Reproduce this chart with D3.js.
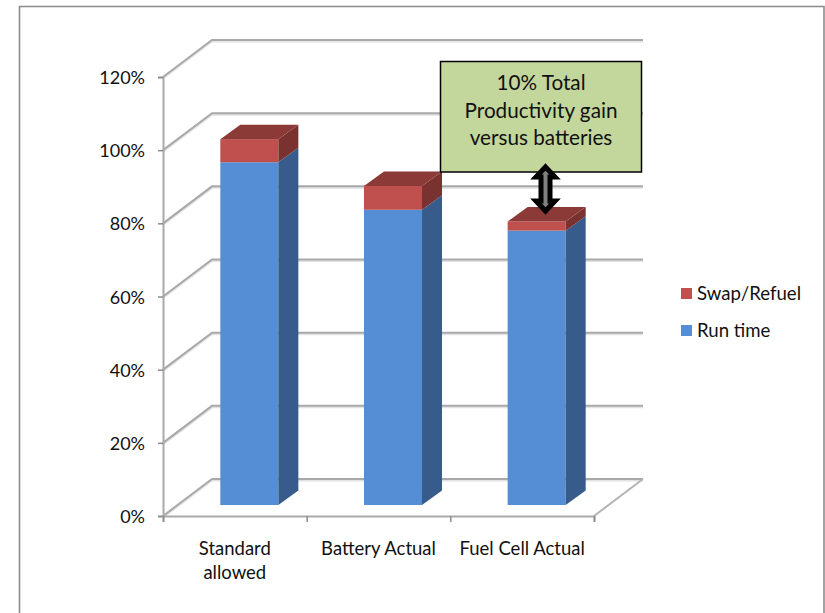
<!DOCTYPE html>
<html>
<head>
<meta charset="utf-8">
<script src="https://cdn.jsdelivr.net/npm/d3@7"></script>
<style>
  html, body { margin: 0; padding: 0; background: #fff; }
  svg { display: block; }
  text { font-family: Lato, "Open Sans", sans-serif; fill: #111; }
</style>
</head>
<body>
<script>
// Values
const categories = ["Standard allowed", "Battery Actual", "Fuel Cell Actual"];
const categoryLines = [["Standard", "allowed"], ["Battery Actual"], ["Fuel Cell Actual"]];
const runTime = [0.937, 0.807, 0.75];
const swapRefuel = [0.063, 0.065, 0.025];
const yTicks = [0, 0.2, 0.4, 0.6, 0.8, 1.0, 1.2];
const seriesNames = ["Swap/Refuel", "Run time"];
const calloutLines = ["10% Total", "Productivity gain", "versus batteries"];

const svgWidth = 825;
const svgHeight = 613;

// 3d look: back wall offset and offset of the bars inside the depth
const wallDx = 49, wallDy = -37;
const barDx = 14.5, barDy = -11;
const depthDx = 20, depthDy = -14.5;

const svg = d3.select("body")
    .append("svg")
    .attr("width", svgWidth)
    .attr("height", svgHeight);

// outer frame, has no bottom edge
svg.append("path")
    .attr("d", "M19.5,613V6.5H824V613")
    .attr("fill", "none")
    .attr("stroke", "#8c8c8c")
    .attr("stroke-width", 1.6);

const yScale = d3.scaleLinear().domain([0, 1.2]).range([516, 77]);
const xScale = d3.scaleBand()
    .domain(categories)
    .range([163, 594])
    .paddingInner(0.596)
    .paddingOuter(0.298);
const xTickScale = d3.scaleLinear().domain([0, categories.length]).range([163, 594]);

const wallLine = v => {
    const y = yScale(v);
    return `M163,${y}L${163 + wallDx},${y + wallDy}H${594 + wallDx}`;
};

// gridlines, a soft light one under the grey one
const grid = svg.append("g").attr("fill", "none");
grid.selectAll(".shadow")
    .data(yTicks)
    .enter()
    .append("path")
    .attr("class", "shadow")
    .attr("d", wallLine)
    .attr("transform", "translate(0,1.5)")
    .attr("stroke", "#e2e2e2")
    .attr("stroke-width", 2);
grid.selectAll(".line")
    .data(yTicks)
    .enter()
    .append("path")
    .attr("class", "line")
    .attr("d", wallLine)
    .attr("stroke", "#a9a9a9")
    .attr("stroke-width", 2);

// right edge of the floor
grid.append("path")
    .attr("d", `M594,${yScale(0)}L${594 + wallDx},${yScale(0) + wallDy}`)
    .attr("stroke", "#b4b4b4")
    .attr("stroke-width", 2);

// axes
const yAxis = svg.append("g")
    .attr("transform", "translate(163,0)")
    .call(d3.axisLeft(yScale).tickValues(yTicks).tickSize(5).tickFormat(""));
const xAxis = svg.append("g")
    .attr("transform", `translate(0,${yScale(0)})`)
    .call(d3.axisBottom(xTickScale).tickValues(d3.range(categories.length + 1)).tickSize(6).tickFormat(""));
[yAxis, xAxis].forEach(a => {
    a.selectAll("path").attr("stroke", "#a9a9a9").attr("stroke-width", 2);
    a.selectAll("line").attr("stroke", "#8c8c8c").attr("stroke-width", 1.5);
});

svg.append("g")
    .selectAll("text")
    .data(yTicks)
    .enter()
    .append("text")
    .attr("x", 145)
    .attr("y", d => yScale(d) + 7)
    .attr("text-anchor", "end")
    .attr("font-size", 18)
    .text(d3.format(".0%"));

svg.append("g")
    .selectAll("text")
    .data(categories)
    .enter()
    .append("text")
    .attr("text-anchor", "middle")
    .attr("font-size", 18.5)
    .attr("y", 555)
    .each(function (d, i) {
        d3.select(this).selectAll("tspan")
            .data(categoryLines[i])
            .enter()
            .append("tspan")
            .attr("x", xScale(d) + xScale.bandwidth() / 2)
            .attr("dy", (t, j) => j === 0 ? 0 : 24)
            .text(t => t);
    });

// bars
const barY = v => yScale(v) + barDy;
const sideFace = (x, y0, y1) =>
    `M${x},${y0}L${x + depthDx},${y0 + depthDy}V${y1 + depthDy}L${x},${y1}Z`;

const bars = svg.append("g")
    .selectAll("g")
    .data(categories)
    .enter()
    .append("g");

bars.each(function (d, i) {
    const g = d3.select(this);
    const x0 = xScale(d) + barDx;
    const w = xScale.bandwidth();
    const blueTop = barY(runTime[i]);
    const redTop = barY(runTime[i] + swapRefuel[i]);
    const base = barY(0);

    g.append("rect").attr("x", x0).attr("y", blueTop)
        .attr("width", w).attr("height", base - blueTop).attr("fill", "#558ed5");
    g.append("path").attr("d", sideFace(x0 + w, base, blueTop)).attr("fill", "#375c8b");
    g.append("rect").attr("x", x0).attr("y", redTop)
        .attr("width", w).attr("height", blueTop - redTop).attr("fill", "#c0504d");
    g.append("path").attr("d", sideFace(x0 + w, blueTop, redTop)).attr("fill", "#793230");
    g.append("path")
        .attr("d", `M${x0},${redTop}L${x0 + depthDx},${redTop + depthDy}H${x0 + w + depthDx}L${x0 + w},${redTop}Z`)
        .attr("fill", "#8c3a37");
});

// callout box
svg.append("rect")
    .attr("x", 440.5)
    .attr("y", 61.5)
    .attr("width", 201)
    .attr("height", 110.5)
    .attr("fill", "#c3d69b")
    .attr("stroke", "#000")
    .attr("stroke-width", 1.5);

svg.append("g")
    .selectAll("text")
    .data(calloutLines)
    .enter()
    .append("text")
    .attr("x", 541)
    .attr("y", (d, i) => 90 + i * 27.5)
    .attr("text-anchor", "middle")
    .attr("font-size", 20.7)
    .text(d => d);

// double headed arrow between the box and the fuel cell bar
const arrowShape = d3.line()([
    [545.5, 167], [555, 177], [550, 177], [550, 201], [555, 201], [545.5, 211],
    [536, 201], [541, 201], [541, 177], [536, 177]
]) + "Z";
svg.append("path")
    .attr("d", arrowShape)
    .attr("fill", "#808080")
    .attr("stroke", "#000")
    .attr("stroke-width", 5)
    .attr("stroke-linejoin", "miter");

// legend
const legendColors = ["#c0504d", "#558ed5"];
const legendY = [293.5, 330.5];
const legend = svg.append("g")
    .selectAll("g")
    .data(seriesNames)
    .enter()
    .append("g");
legend.append("rect")
    .attr("x", 681)
    .attr("y", (d, i) => legendY[i] - 5.5)
    .attr("width", 11)
    .attr("height", 11)
    .attr("fill", (d, i) => legendColors[i]);
legend.append("text")
    .attr("x", 697)
    .attr("y", (d, i) => legendY[i] + 6.5)
    .attr("font-size", 18.6)
    .text(d => d);
</script>
</body>
</html>
